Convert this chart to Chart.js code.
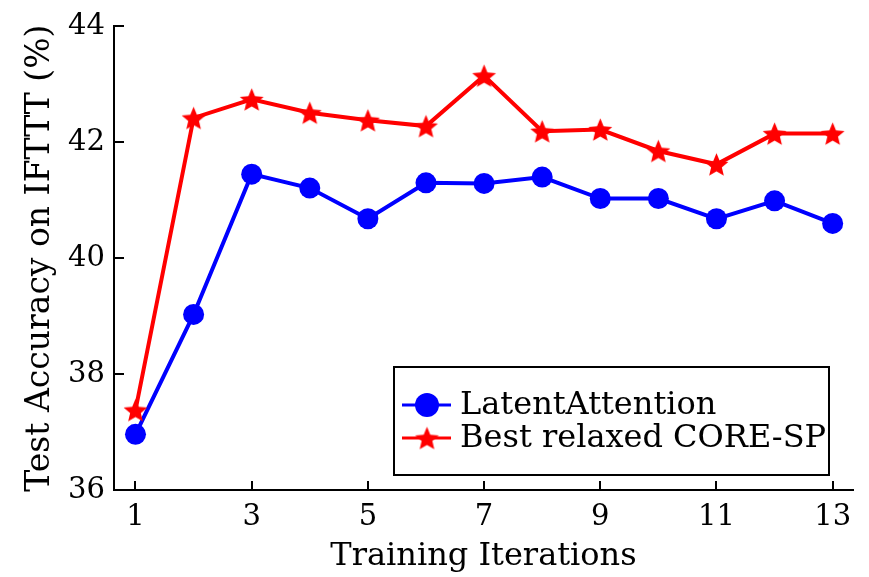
<!DOCTYPE html>
<html><head><meta charset="utf-8">
<script src="https://cdn.jsdelivr.net/npm/chart.js@4"></script>
<style>html,body{margin:0;padding:0;background:#fff;overflow:hidden}</style>
</head><body>
<canvas id="c" width="869" height="577" style="width:869px;height:577px;display:block"></canvas>
<script>
// ---- data ----
const iterations = [1, 2, 3, 4, 5, 6, 7, 8, 9, 10, 11, 12, 13];
const latentAttention = [36.96, 39.03, 41.45, 41.21, 40.68, 41.30, 41.29, 41.40, 41.03, 41.03, 40.68, 40.99, 40.60];
const bestRelaxedCoreSP = [37.38, 42.42, 42.74, 42.51, 42.38, 42.28, 43.15, 42.19, 42.22, 41.85, 41.62, 42.15, 42.15];
const xTickValues = [1, 3, 5, 7, 9, 11, 13];
const yTickValues = [36, 38, 40, 42, 44];
const seriesNames = ['LatentAttention', 'Best relaxed CORE-SP'];
const axisTitles = { x: 'Training Iterations', y: 'Test Accuracy on IFTTT (%)' };

const FONT = "'DejaVu Serif', 'Liberation Serif', 'Noto Serif', serif";

function makeStar(outerR, color) {
  const s = Math.ceil(outerR * 2 + 4);
  const cv = document.createElement('canvas');
  cv.width = s; cv.height = s;
  const g = cv.getContext('2d');
  const cx = s / 2, cy = s / 2 + outerR * 0.1;
  const innerR = outerR * 0.45;
  g.beginPath();
  for (let i = 0; i < 10; i++) {
    const r = i % 2 === 0 ? outerR : innerR;
    const a = -Math.PI / 2 + i * Math.PI / 5;
    const px = cx + r * Math.cos(a), py = cy + r * Math.sin(a);
    if (i === 0) g.moveTo(px, py); else g.lineTo(px, py);
  }
  g.closePath();
  g.fillStyle = color;
  g.fill();
  return cv;
}
const starImg = makeStar(12.5, '#ff0000');

const inwardTicks = {
  id: 'inwardTicks',
  afterDraw(chart) {
    const { ctx, chartArea, scales } = chart;
    ctx.save();
    ctx.strokeStyle = '#000';
    ctx.lineWidth = 2;
    ctx.beginPath();
    xTickValues.forEach(v => {
      const px = Math.round(scales.x.getPixelForValue(v));
      ctx.moveTo(px, chartArea.bottom);
      ctx.lineTo(px, chartArea.bottom - 9);
    });
    yTickValues.forEach(v => {
      const py = Math.round(scales.y.getPixelForValue(v));
      ctx.moveTo(chartArea.left, py);
      ctx.lineTo(chartArea.left + 10, py);
    });
    ctx.stroke();
    ctx.restore();
  }
};

const boxLegend = {
  id: 'boxLegend',
  afterDraw(chart) {
    const { ctx, chartArea } = chart;
    const w = 435, h = 108;
    const x0 = chartArea.right - 24 - w, y0 = chartArea.bottom - 15 - h;
    ctx.save();
    ctx.fillStyle = '#fff';
    ctx.fillRect(x0, y0, w, h);
    ctx.strokeStyle = '#000';
    ctx.lineWidth = 2;
    ctx.strokeRect(x0, y0, w, h);
    const rows = [y0 + 38, y0 + 71];
    chart.data.datasets.forEach((ds, i) => {
      const yy = rows[i];
      ctx.strokeStyle = ds.borderColor;
      ctx.lineWidth = 3;
      ctx.beginPath();
      ctx.moveTo(x0 + 8, yy);
      ctx.lineTo(x0 + 57, yy);
      ctx.stroke();
      if (i === 0) {
        ctx.fillStyle = ds.backgroundColor;
        ctx.beginPath();
        ctx.arc(x0 + 33, yy, 12, 0, Math.PI * 2);
        ctx.fill();
      } else {
        ctx.drawImage(starImg, x0 + 33 - starImg.width / 2, yy - starImg.height / 2);
      }
      ctx.fillStyle = '#000';
      ctx.font = '32px ' + FONT;
      ctx.textBaseline = 'middle';
      ctx.textAlign = 'left';
      ctx.fillText(ds.label, x0 + 66, yy + 1);
    });
    ctx.restore();
  }
};

new Chart(document.getElementById('c'), {
  type: 'line',
  data: {
    datasets: [
      {
        label: seriesNames[0],
        data: iterations.map((x, i) => ({ x, y: latentAttention[i] })),
        borderColor: '#0000ff',
        backgroundColor: '#0000ff',
        borderWidth: 4,
        pointStyle: 'circle',
        pointRadius: 10.5,
        pointHoverRadius: 10.5,
        pointBorderWidth: 0,
        tension: 0,
        order: 1
      },
      {
        label: seriesNames[1],
        data: iterations.map((x, i) => ({ x, y: bestRelaxedCoreSP[i] })),
        borderColor: '#ff0000',
        backgroundColor: '#ff0000',
        borderWidth: 4,
        pointStyle: starImg,
        pointRadius: 12,
        tension: 0,
        order: 0
      }
    ]
  },
  options: {
    responsive: false,
    animation: false,
    devicePixelRatio: 1,
    layout: { padding: { top: 22, right: 13, left: 0, bottom: 0 } },
    plugins: { legend: { display: false }, tooltip: { enabled: false } },
    scales: {
      x: {
        type: 'linear',
        min: 0.63,
        max: 13.35,
        afterBuildTicks(scale) { scale.ticks = xTickValues.map(v => ({ value: v })); },
        afterFit(scale) { scale.height = 87; },
        grid: { display: false, drawTicks: false },
        border: { display: true, color: '#000', width: 2 },
        ticks: { color: '#000', font: { family: FONT, size: 29 }, padding: 10, maxRotation: 0, autoSkip: false },
        title: { display: true, text: axisTitles.x, color: '#000', font: { family: FONT, size: 32, lineHeight: 1 }, padding: { top: 0, bottom: 4 } }
      },
      y: {
        type: 'linear',
        min: 36,
        max: 44,
        afterBuildTicks(scale) { scale.ticks = yTickValues.map(v => ({ value: v })); },
        afterFit(scale) { scale.width = 114; },
        grid: { display: false, drawTicks: false },
        border: { display: true, color: '#000', width: 2 },
        ticks: { color: '#000', font: { family: FONT, size: 29 }, padding: 9 },
        title: { display: true, text: axisTitles.y, color: '#000', font: { family: FONT, size: 33, lineHeight: 1 }, padding: { top: 24, bottom: 0 } }
      }
    }
  },
  plugins: [inwardTicks, boxLegend]
});
</script>
</body></html>
